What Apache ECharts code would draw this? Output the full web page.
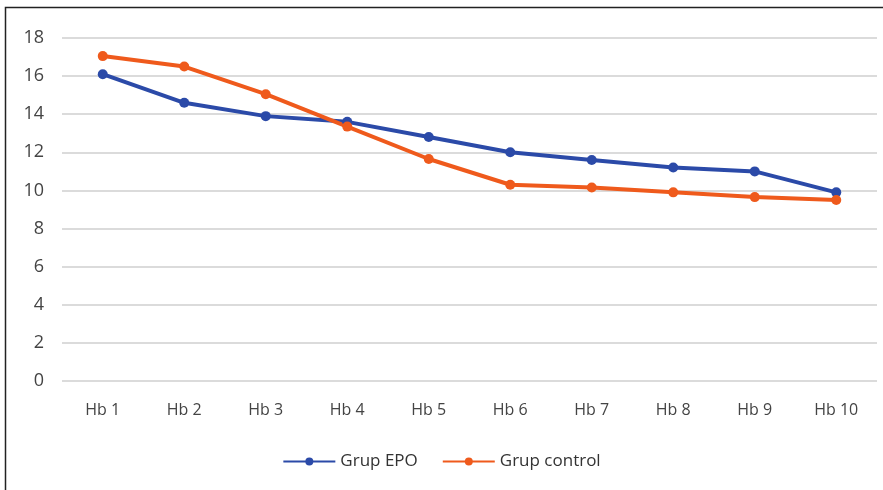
<!DOCTYPE html>
<html><head><meta charset="utf-8">
<script src="https://cdn.jsdelivr.net/npm/echarts@6/dist/echarts.min.js"></script>
<style>html,body{margin:0;padding:0;background:#fff}#c{width:883px;height:490px}</style>
</head><body><div id="c"></div>
<script>
var categories = ['Hb 1','Hb 2','Hb 3','Hb 4','Hb 5','Hb 6','Hb 7','Hb 8','Hb 9','Hb 10'];
var grupEPO = [16.1, 14.6, 13.9, 13.6, 12.8, 12.0, 11.6, 11.2, 11.0, 9.9];
var grupControl = [17.05, 16.5, 15.05, 13.35, 11.65, 10.3, 10.15, 9.9, 9.65, 9.5];
var yTicks = {min: 0, max: 18, interval: 2};

var chart = echarts.init(document.getElementById('c'));
var font = '"Open Sans", "Liberation Sans", sans-serif';
chart.setOption({
  animation: false,
  backgroundColor: '#fff',
  graphic: [{type:'rect', shape:{x:5.5,y:7.5,width:890,height:500}, style:{fill:'none', stroke:'#222', lineWidth:1.5}}],
  grid: {left: 62, right: 6, top: 38, bottom: 109},
  legend: {
    bottom: 15, left: 'center', itemWidth: 52, itemHeight: 10, itemGap: 24,
    textStyle: {fontSize: 17, color: '#333', fontFamily: font},
    data: ['Grup EPO','Grup control']
  },
  xAxis: {
    type: 'category', data: categories, boundaryGap: true,
    axisLine: {show: false}, axisTick: {show: false},
    axisLabel: {fontSize: 16, color: '#444', margin: 21, fontFamily: font}
  },
  yAxis: {
    type: 'value', min: yTicks.min, max: yTicks.max, interval: yTicks.interval,
    axisLine: {show: false}, axisTick: {show: false},
    axisLabel: {fontSize: 18, color: '#444', margin: 18, fontFamily: font},
    splitLine: {lineStyle: {color: '#cfcfcf', width: 1.5}}
  },
  series: [
    {name: 'Grup EPO', type: 'line', data: grupEPO, symbol: 'circle', symbolSize: 10,
     lineStyle: {color: '#2b4aa8', width: 4}, itemStyle: {color: '#2b4aa8'}},
    {name: 'Grup control', type: 'line', data: grupControl, symbol: 'circle', symbolSize: 10,
     lineStyle: {color: '#ef5a1c', width: 4}, itemStyle: {color: '#ef5a1c'}}
  ]
});
</script></body></html>
